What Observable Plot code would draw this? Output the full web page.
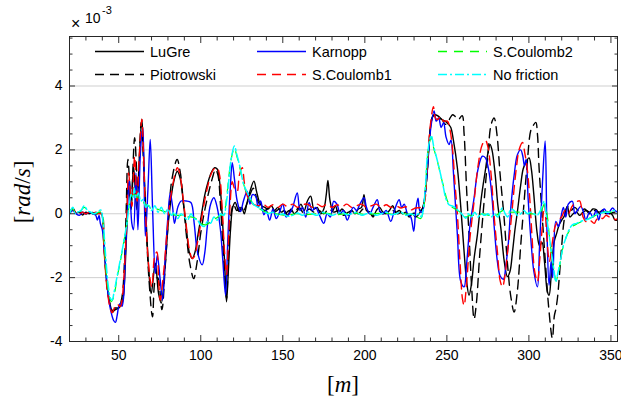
<!DOCTYPE html>
<html><head><meta charset="utf-8">
<script src="https://cdn.jsdelivr.net/npm/d3@7"></script>
<script src="https://cdn.jsdelivr.net/npm/@observablehq/plot@0.6"></script>
<style>
body{margin:0;background:#fff;}
#wrap{position:relative;width:621px;height:405px;overflow:hidden;}
#over{position:absolute;left:0;top:0;pointer-events:none;}
</style></head><body><div id="wrap"></div>
<script>
// [x (m), angular velocity (x10^-3 rad/s)]
const lugre = [[20,0],[22,0.18],[24,0.02],[26,0.06],[28,-0.04],[30,0.05],[32,0],[34,0.04],[36,0],[38,0.02],[39.5,0],[41,-1],[43,-2.3],[45,-2.9],[46.3,-3.08],[48,-2.95],[50,-2.95],[52,-2.8],[53,-2.5],[54,-1.6],[55,-0.3],[55.8,0.97],[57.6,0.13],[59,1.5],[61,0.13],[62.5,1.7],[64.1,2.96],[65.3,1.6],[66.6,-0.08],[68.2,-1.66],[69.8,-2.5],[72.3,-1.55],[74.3,-2.5],[75.9,-2.8],[78.4,-1.55],[80.4,-0.19],[83.4,0.97],[85.7,1.33],[87.5,1.1],[89.5,0.3],[91.5,-0.6],[93,-1.2],[94.8,-1.4],[96.5,-1.2],[98.5,-0.6],[100.5,0],[102.5,0.6],[104.5,1],[106.5,1.3],[108.5,1.44],[110,1.4],[111.5,1],[113,0],[114.5,-1.5],[115.7,-2.76],[116.8,-1.8],[118.2,-0.45],[119.5,0.2],[121,0.35],[123.3,0.07],[125,0.2],[126.5,0],[128,0.3],[130,0.7],[132.4,1.02],[134,0.7],[135.5,0.4],[137,0.25],[139,0.2],[141,0.15],[143,0.25],[145,0.1],[147,0.2],[149,0.05],[151,0.1],[153,-0.05],[155,0.15],[157,0],[159,0.1],[161,0.3],[163,0.1],[165,0.4],[167,0.55],[169,0.15],[171,0.2],[173,0],[175,0.15],[176.5,0.6],[177.5,1.04],[178.8,0.4],[180.5,0.1],[182,0.25],[184,0],[186,0.15],[188,0.05],[190,-0.05],[192,0.1],[194,0],[196,0.15],[198,0.2],[199.5,0.6],[201,0.1],[203,0.05],[205,-0.1],[207,0.1],[209,0.2],[211,0.05],[213,0],[215,0.1],[217,0.25],[219,0.05],[221,0.1],[223,0],[225,0.05],[227,-0.1],[229,0],[231,-0.1],[233,0],[235,0.15],[236.5,0.5],[238,1.3],[240,2.7],[241.5,3.07],[243,3.1],[245,3.05],[247,2.95],[249,2.9],[251,2.8],[252.4,2.7],[254,2.3],[256.4,1.44],[258.5,0.2],[260.5,-1.19],[262,-2.1],[263.5,-2.55],[265,-2.2],[266.6,-1.4],[268.6,-0.66],[271,0.5],[273.7,1.44],[275,1.9],[276.3,2.17],[277.5,2],[279.5,1.2],[281,0.3],[282.9,-0.45],[285,-1.5],[286.9,-1.97],[288.5,-1.8],[290,-1.2],[291.5,-0.5],[293,0.07],[295,0.9],[296.5,1.4],[298.1,1.6],[300.1,1.75],[301.5,1.4],[303,0.6],[305,-0.6],[306.5,-1],[308,-0.9],[309.5,-1.5],[311.3,-2.45],[312.3,-2.55],[313.5,-2],[315.4,-0.87],[317,-0.6],[318.4,-0.35],[320,-0.2],[321.5,-0.08],[323.5,0.23],[325,-0.1],[327,0],[329,0.05],[331,-0.05],[333,0.05],[335,0.1],[337,0.05],[339,0.15],[341,0.13],[343,0],[345,0.1],[347,0],[349,0.05],[351,-0.05],[352.5,-0.2],[354,-0.2]];

const piotrowski = [[20,0],[22,0.15],[24,0],[27,0.05],[30,0],[33,0.05],[36,0],[39.5,0],[41,-1],[43,-2.3],[45,-2.9],[46.5,-3.05],[48,-3],[50,-2.95],[52,-2.6],[53.5,-1.5],[54.5,0],[55.6,1.7],[57.6,0.44],[59.7,2.38],[61.7,0.75],[63.7,2.86],[65.8,0.75],[68.2,-1.87],[70.6,-3.23],[72.3,-2.08],[73.8,-2],[76.3,-3],[78.4,-1.6],[80.4,-0.08],[82.4,1.07],[85.6,1.7],[87.5,1.3],[89.5,0.3],[91.5,-0.8],[93.5,-1.6],[95.7,-2.03],[97.5,-1.6],[100,-0.6],[102,0],[104.5,0.6],[107,1.1],[109,1.39],[110.5,1.2],[112,0.3],[113.8,-1.3],[115.7,-2.65],[117,-1.2],[118.5,0],[120,0.3],[122,0.1],[124,0.2],[126,0.1],[128,0.3],[130,0.6],[132,0.8],[134,0.5],[136,0.25],[139,0.1],[142,0.2],[145,0.05],[148,0.15],[151,0],[154,0.1],[157,0.05],[160,0.2],[163,0],[166,0.15],[169,0.05],[172,0.1],[175,0],[178,0.15],[181,0.05],[184,0.1],[187,-0.05],[190,0.05],[193,0.1],[196,0],[199,0.15],[202,0.05],[205,-0.05],[208,0.1],[211,0],[214,0.05],[217,0.1],[220,0],[223,0.05],[226,-0.05],[229,0],[232,0.05],[235,0.15],[236.5,0.5],[238,1.3],[240,2.7],[241.5,3.05],[243,3.1],[245,3],[247,2.95],[249,2.8],[250.5,2.85],[252,3],[253.5,3.1],[255,3.05],[257,2.95],[259.3,3.07],[260.5,2.5],[262,0.8],[263.5,-0.66],[265,-2.2],[266.6,-3.3],[268,-2.8],[270,-1.3],[272.7,0.39],[275,1.8],[277,2.8],[278.8,3],[280.5,2.5],[282.5,1.2],[284.9,-0.14],[287,-1.6],[289,-2.6],[291,-3.08],[293,-2.4],[295,-1],[297.1,0.39],[299,1.6],[301.1,2.6],[302.5,2.75],[304.2,2.86],[305.2,2.5],[306.2,1.44],[308,0],[310.3,-1.7],[312,-2.9],[314.3,-3.9],[315.5,-3.2],[316.5,-2.97],[317.5,-2.6],[318.5,-2],[320,-1],[321.5,-0.2],[323.5,0.23],[325.5,0.1],[328,0.2],[331,0.05],[334,0.15],[337,0],[340,0.1],[343,0.05],[346,0.15],[349,0],[352,0.05],[354,0]];

const karnopp = [[20,0],[22,0.1],[24,0],[26,-0.05],[28,0.05],[30,0],[32,0.05],[34,0],[36,-0.05],[37,-0.2],[38,-0.05],[38.8,-0.3],[40,-0.5],[41.5,-1.3],[43,-2.3],[45,-3],[47,-3.35],[48,-3.4],[49,-3.2],[50,-2.9],[51,-2.8],[52,-2.9],[53,-2.6],[54,-1.34],[55,-0.3],[56.4,1.07],[58,-0.3],[59,-0.5],[60.5,1.28],[61.7,-0.5],[63.3,2],[64.7,2.7],[66.2,-0.7],[67.8,0.75],[69.2,2.33],[70.6,0.23],[72.3,-1.87],[73.5,-1.3],[75.3,-2.08],[76.7,-2.7],[78.4,-1.34],[80,-0.08],[81.4,0.65],[82.8,0.23],[84,-0.3],[86,0.2],[88,0.4],[91,0.4],[94,0.35],[96,-0.3],[98,-1.2],[100.9,-1.6],[102.5,-1.2],[104,-0.4],[106,0.3],[108,0.5],[110,0.2],[112,-0.5],[113.5,-1.5],[115.1,-2.55],[116.5,-0.8],[118,0.8],[119.2,1.6],[120.5,1.1],[122.2,0.4],[124.3,0.07],[126,0.4],[128.3,0.7],[130,0.3],[131.5,0.6],[133.4,0.55],[135,0.2],[136.5,0.4],[138.5,-0.03],[140,0.1],[142,-0.2],[144,0.15],[146,-0.15],[148,0.05],[150,0.3],[152,-0.1],[154,0],[156,0.2],[158.8,0.65],[160.5,0.1],[162,0.2],[164,-0.1],[166,0.35],[168,0.1],[170,0.2],[172,0],[175,-0.3],[177,0],[179,-0.1],[181,0.39],[183,0.3],[185,0],[187,0.1],[189.3,-0.2],[191,0],[193,0.2],[195,0.1],[197,0.3],[199.5,0.5],[201,0.2],[203,0],[205,0.2],[207.6,0.44],[209,0.1],[211,0],[213,0.1],[215.8,-0.24],[218,0.1],[220.9,0.44],[222.5,0.2],[224,0.3],[226,0],[228,-0.1],[229.8,-0.55],[231,0.1],[232.4,0.49],[233.5,0.1],[235,0.05],[236.5,0.5],[238,1.3],[240,2.6],[242.2,3.22],[243.5,2.9],[245,3],[246.5,2.7],[248,2.85],[249.5,2.4],[251.3,2.17],[252.5,2.3],[254,1.3],[256.4,-0.66],[258.5,-2.13],[260.5,-2.29],[262,-1.6],[264,-0.4],[266.6,0.5],[269,1.4],[271.6,1.8],[273.5,1.75],[275,1.5],[277,0.8],[279,-0.5],[280.8,-1.5],[282.5,-1.95],[284.5,-2.05],[286,-1.6],[287.5,-0.9],[289,0.2],[291,1.2],[293,1.85],[295,2],[296.3,1.8],[297.3,1.5],[298.3,1.7],[299.5,0.5],[301.5,-1],[303,-1.8],[305.2,-2.29],[306.5,-1],[308.3,1],[309.9,2.28],[311,-0.5],[312.3,-2.24],[313.5,-1.5],[314.5,-2],[316.4,-0.24],[318,-0.4],[319.4,-0.14],[321,0.2],[322.5,-0.1],[324,0.3],[326.5,0.39],[328,0],[329.5,0.1],[331.6,0.23],[333,0.1],[334.7,-0.19],[337,0.05],[339,-0.1],[341,0.1],[342.5,-0.2],[344,0.05],[346,0.15],[348,0],[351,0.18],[352.5,0.1],[354,0.05]];

const sCoulomb1 = [[20,0.05],[22,0.15],[24,0],[26,0],[28,0.05],[30,0],[32,0.05],[34,0],[36,0.05],[38,0],[39.5,0],[41,-1.1],[43,-2.4],[45,-3],[46,-3.1],[47,-3],[48,-2.85],[49.5,-2.85],[51,-2.9],[52,-2.7],[53,-2.1],[54,-1.2],[55,0],[56,1.28],[58,0.23],[59.7,1.8],[61.1,0.33],[62.5,1.8],[64.1,2.96],[65,2],[66.2,0.23],[67.8,-1.34],[69.2,-2.08],[70.2,-2.3],[71.9,-1.34],[73.3,-1.2],[74.3,-2.08],[75.3,-2.7],[77.3,-1.87],[79.4,-0.6],[81.4,0.44],[84.5,1.28],[85.7,1.44],[87,1.3],[89,0.6],[91,-0.3],[93,-1.1],[94.8,-1.4],[96,-1.35],[98,-0.9],[100,-0.3],[102,0.3],[104,0.8],[106,1.2],[108,1.4],[110,1.44],[111.5,1.2],[113,0.2],[114.5,-1.2],[115.7,-1.9],[117,-0.7],[118,0.4],[119.2,1],[120.5,0.8],[122.2,0.7],[123.5,1.2],[125.3,1.44],[126.5,1],[128,0.6],[130,0.4],[132,0.3],[135,0.25],[138,0.3],[141,0.2],[144,0.28],[147,0.2],[150,0.3],[153,0.22],[156,0.3],[159,0.2],[162,0.28],[165,0.3],[168,0.2],[171,0.3],[174,0.22],[177,0.3],[180,0.2],[183,0.28],[186,0.22],[189,0.3],[192,0.2],[195,0.25],[198,0.3],[201,0.2],[204,0.25],[207,0.3],[210,0.2],[213,0.28],[216,0.2],[219,0.25],[222,0.18],[225,0.22],[228,0.12],[231,0.18],[234,0.2],[236,0.3],[238,1.5],[240,2.8],[241.8,3.35],[243,3],[244.5,2.95],[246,3.05],[248,2.9],[250.3,2.9],[252,2.6],[253.5,2],[255,0.9],[256.4,0],[258,-1.5],[259.5,-2.66],[260.5,-2.87],[262,-2.2],[264,-0.8],[266.6,0.39],[269,1.5],[271.6,2.17],[273.5,2.3],[275,2.1],[277,1.2],[279,-0.2],[280.8,-1.19],[282.5,-2.1],[283.9,-2.29],[285.5,-1.9],[287,-1.2],[289,-0.3],[291,0.8],[292.5,1.5],[294,2],[296.1,2.23],[297.5,1.9],[299,1.4],[300.5,0.5],[302,-0.8],[303.5,-1.8],[305.2,-2.13],[306.5,-1.5],[308,-0.5],[309.5,0.3],[311,-0.8],[312.5,-1.5],[314,-1],[316,-0.4],[318,-0.2],[320,-0.1],[322,0.1],[324,0],[326,0.2],[328,0.35],[329.6,0.39],[331,0.4],[333,-0.1],[335,-0.25],[337,-0.2],[339.8,-0.3],[341,-0.2],[343,-0.1],[345,-0.15],[347,-0.05],[349,-0.1],[351,-0.1],[353,-0.19],[354,-0.15]];

const sCoulomb2 = [[20,0],[22,0.15],[24,0],[27,0.1],[29,0.2],[32,0.05],[35,0],[38,0.05],[39.5,0.05],[41,-0.8],[42.5,-1.9],[44,-2.5],[45.5,-2.75],[47,-2.6],[49,-2],[51,-1.5],[53,-0.9],[55,-0.3],[56.5,0.3],[58,0.55],[60,0.6],[62,0.5],[64,0.45],[66,0.3],[68,0.25],[70,0.15],[73,0.15],[76,0.1],[79,0.05],[82,0],[85,-0.05],[88,-0.05],[91,-0.1],[94,-0.1],[97,-0.15],[100,-0.3],[103,-0.35],[106,-0.25],[109,-0.15],[112,-0.05],[114,0],[115.5,0.4],[117,1.1],[118.5,1.7],[120.5,2.05],[122,1.8],[124,1.4],[126,0.95],[128,0.65],[130,0.45],[133,0.25],[136,0.15],[140,0.05],[146,0],[152,-0.05],[158,0],[164,-0.03],[170,0],[176,0.02],[182,-0.03],[188,0],[194,0.02],[200,-0.02],[206,0],[212,0.02],[218,-0.02],[224,0],[230,-0.05],[234,-0.15],[235.5,0.05],[237,0.85],[238,1.7],[239.5,2.25],[240.5,2.4],[242,2.05],[244,1.7],[246,1.25],[248,0.85],[250,0.45],[252,0.25],[255,0.15],[258,0.05],[261,-0.1],[264,-0.05],[268,-0.05],[272,0],[276,-0.05],[280,-0.05],[284,0.1],[288,0.05],[292,0.05],[296,0.05],[300,0],[304,0],[307,0.05],[309.5,0.3],[311,0],[312.5,-0.7],[314,-1.35],[315.5,-1.85],[316.5,-2.1],[318,-1.85],[319.5,-1.4],[321,-1],[323,-0.7],[325,-0.5],[327,-0.38],[330,-0.3],[334,-0.2],[338,-0.12],[342,-0.02],[346,0.05],[350,0.05],[354,0.05]];

const noFriction = [[20,0],[22,0.2],[23.5,0],[25,0.05],[27,0.1],[29,0.25],[31,0.1],[33,0.05],[35,0],[37,0.05],[39,0.12],[40.5,-0.3],[42,-1.3],[43.5,-2.2],[45,-2.65],[46,-2.7],[47,-2.5],[48.5,-2.1],[50,-1.7],[51.5,-1.3],[53,-0.9],[54.5,-0.45],[55.5,-0.1],[56.5,0.3],[57.5,0.6],[58.5,0.5],[59.5,0.8],[60.5,0.5],[62,0.65],[63.5,0.4],[65,0.45],[66.5,0.2],[68,0.3],[70,0.1],[72,0.25],[74,0.05],[76,0.2],[78,0],[80,0.15],[82,-0.05],[84,0.05],[86,-0.15],[88,0],[90,-0.1],[92,-0.2],[94,0],[96,-0.15],[98,-0.2],[100,-0.35],[102,-0.4],[104,-0.25],[106,-0.3],[108,-0.1],[110,-0.2],[112,0],[114,-0.05],[115.5,0.3],[117,1],[118.5,1.7],[120.5,2.12],[122,1.85],[124,1.45],[126,0.95],[128,0.7],[130,0.5],[132,0.3],[135,0.2],[138,0.1],[141,0],[144,0.05],[147,-0.05],[150,0],[153,-0.08],[156,-0.05],[159,0.02],[162,-0.05],[165,0.05],[168,0],[171,-0.05],[174,0.05],[177,0],[180,-0.05],[183,0],[186,0.05],[189,-0.03],[192,0],[195,0.05],[198,-0.05],[201,0],[204,0.03],[207,-0.05],[210,0],[213,0.05],[216,-0.03],[219,0],[222,0.05],[225,-0.05],[228,0],[231,-0.05],[233,0],[234.5,-0.1],[235.5,0.1],[237,0.9],[238,1.75],[239.5,2.3],[240.5,2.45],[242,2.1],[243.2,1.86],[244.5,1.6],[246.2,1.23],[248,0.8],[249.3,0.49],[251.3,0.28],[253,0.25],[255,0.2],[257,0.1],[259,0],[261.5,-0.14],[263,0],[265,-0.1],[267,0.05],[269,-0.1],[271,0],[273,-0.05],[275,0],[277,-0.1],[279,0],[281,-0.1],[283.8,0.18],[285.5,0],[287,-0.1],[289,0.15],[291,0.1],[293,-0.05],[295,0],[297,0.1],[299,0],[301,0.05],[303,0],[305,-0.05],[307,0.1],[309.3,0.39],[310.5,0],[312.3,-0.66],[314,-1.3],[315.4,-1.82],[316.4,-2.13],[317.5,-1.9],[319.4,-1.4],[321,-1],[322.5,-0.77],[324.5,-0.5],[326.5,-0.35],[329,-0.3],[331,-0.25],[334,-0.2],[337,-0.15],[340,-0.05],[343,0],[346,0.05],[349,0.05],[352,0.1],[354,0.05]];

const seriesNames = ["LuGre","Piotrowski","Karnopp","S.Coulomb1","S.Coulomb2","No friction"];
const xMajorTicks = [50,100,150,200,250,300,350];
const xMinorTicks = [20,30,40,60,70,80,90,110,120,130,140,160,170,180,190,210,220,230,240,260,270,280,290,310,320,330,340];
const yMajorTicks = [-4,-2,0,2,4];
const yMinorTicks = [-3.5,-3,-2.5,-1.5,-1,-0.5,0.5,1,1.5,2.5,3,3.5,4.5,5,5.5];
const yGridLines = [-2,0,2,4];

const styles = [
  {data: lugre, stroke: "#000000", dash: null, w: 1.4},
  {data: piotrowski, stroke: "#000000", dash: "9,6", w: 1.4},
  {data: karnopp, stroke: "#0000ff", dash: null, w: 1.4},
  {data: sCoulomb1, stroke: "#ff0000", dash: "9,6", w: 1.4},
  {data: sCoulomb2, stroke: "#00ff00", dash: "9,7", w: 1.2},
  {data: noFriction, stroke: "#00ffff", dash: "9,3,2,3", w: 1.5}
];

const lineMarks = styles.map(s => Plot.line(s.data, {
  x: d => d[0], y: d => d[1], stroke: s.stroke, strokeWidth: s.w,
  strokeDasharray: s.dash, curve: "catmull-rom", clip: true
}));

const fmt = d => String(d);
const chart = Plot.plot({
  width: 621, height: 405,
  marginLeft: 69, marginRight: 4, marginTop: 36, marginBottom: 64,
  style: {fontFamily: "'Liberation Sans', Arial, sans-serif", fontSize: "14px", color: "#000", background: "#fff"},
  x: {domain: [20, 354]},
  y: {domain: [-4, 5.55]},
  marks: [
    Plot.gridY(yGridLines, {stroke: "#cfcfcf", strokeOpacity: 1, strokeWidth: 1}),
    ...lineMarks,
    Plot.axisX(xMajorTicks, {anchor: "bottom", tickSize: 0, tickPadding: 9, tickFormat: fmt, label: null, fontSize: 14}),
    Plot.axisX(xMajorTicks, {anchor: "bottom", tickSize: -6, tickFormat: () => "", label: null, stroke: "#333"}),
    Plot.axisX(xMinorTicks, {anchor: "bottom", tickSize: -3.5, tickFormat: () => "", label: null, stroke: "#333"}),
    Plot.axisX(xMajorTicks, {anchor: "top", tickSize: -6, tickFormat: () => "", label: null, stroke: "#333"}),
    Plot.axisX(xMinorTicks, {anchor: "top", tickSize: -3.5, tickFormat: () => "", label: null, stroke: "#333"}),
    Plot.axisY(yMajorTicks, {anchor: "left", tickSize: 0, tickPadding: 7, tickFormat: fmt, label: null, fontSize: 14}),
    Plot.axisY(yMajorTicks, {anchor: "left", tickSize: -6, tickFormat: () => "", label: null, stroke: "#333"}),
    Plot.axisY(yMinorTicks, {anchor: "left", tickSize: -3.5, tickFormat: () => "", label: null, stroke: "#333"}),
    Plot.axisY(yMajorTicks, {anchor: "right", tickSize: -6, tickFormat: () => "", label: null, stroke: "#333"}),
    Plot.axisY(yMinorTicks, {anchor: "right", tickSize: -3.5, tickFormat: () => "", label: null, stroke: "#333"}),
    Plot.frame({stroke: "#262626", strokeWidth: 1})
  ]
});
const wrap = document.getElementById("wrap");
wrap.appendChild(chart);

// overlay: exponent, axis labels, legend
const ov = d3.select(wrap).append("svg").attr("id", "over").attr("width", 621).attr("height", 405)
  .style("font-family", "'Liberation Sans', Arial, sans-serif");
ov.append("text").attr("x", 71).attr("y", 29).attr("font-size", 16).text("\u00d7");
ov.append("text").attr("x", 85).attr("y", 23).attr("font-size", 14).text("10");
ov.append("text").attr("x", 102).attr("y", 14).attr("font-size", 11).text("-3");

const serif = "'Liberation Serif', 'Times New Roman', serif";
const yl = ov.append("text").attr("transform", "translate(30,192) rotate(-90)")
  .attr("text-anchor", "middle").attr("font-family", serif).attr("font-size", 23);
yl.append("tspan").text("[");
yl.append("tspan").attr("font-style", "italic").text("rad");
yl.append("tspan").text("/");
yl.append("tspan").attr("font-style", "italic").text("s");
yl.append("tspan").text("]");
const xl = ov.append("text").attr("x", 343).attr("y", 392).attr("text-anchor", "middle")
  .attr("font-family", serif).attr("font-size", 23);
xl.append("tspan").text("[");
xl.append("tspan").attr("font-style", "italic").text("m");
xl.append("tspan").text("]");

const legCols = [95, 257, 438];
const legRows = [51.5, 74.5];
styles.forEach((s, i) => {
  const cx = legCols[Math.floor(i / 2)], cy = legRows[i % 2];
  ov.append("line").attr("x1", cx).attr("x2", cx + 49).attr("y1", cy).attr("y2", cy)
    .attr("stroke", s.stroke).attr("stroke-width", 1.4)
    .attr("stroke-dasharray", s.dash);
  ov.append("text").attr("x", cx + 55).attr("y", cy + 5).attr("font-size", 14.5).text(seriesNames[i]);
});
</script></body></html>
